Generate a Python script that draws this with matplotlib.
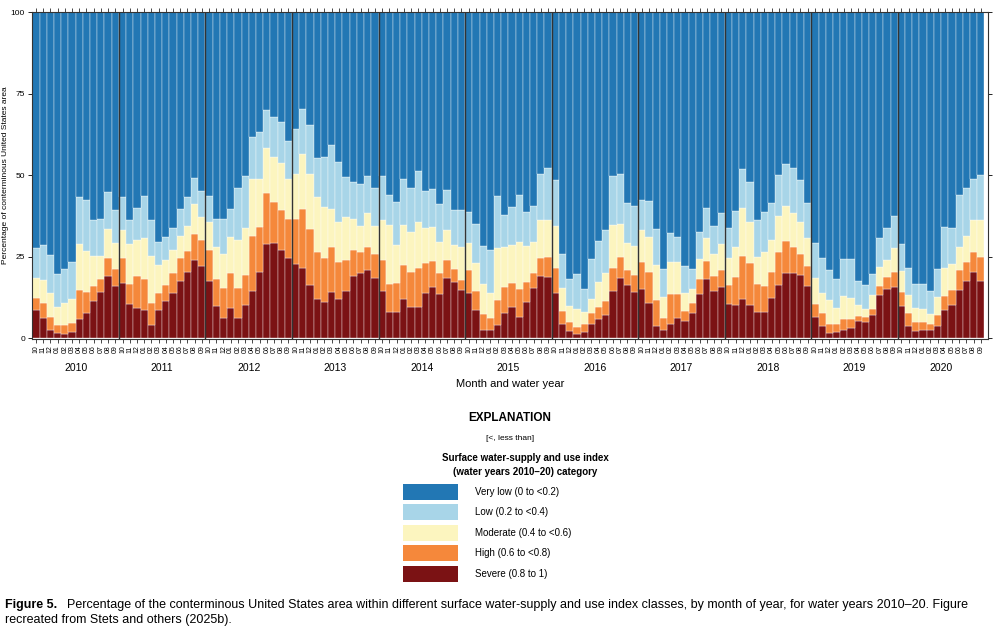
import numpy as np
import matplotlib
matplotlib.use("Agg")
import matplotlib.pyplot as plt
from matplotlib.patches import Rectangle
from matplotlib.transforms import blended_transform_factory

plt.rcParams['font.family'] = ['Liberation Sans Narrow', 'Liberation Sans', 'DejaVu Sans']

years = ["2010", "2011", "2012", "2013", "2014", "2015", "2016", "2017", "2018", "2019", "2020"]
months = ["10", "11", "12", "01", "02", "03", "04", "05", "06", "07", "08", "09"]

categories = ["Severe (0.8 to 1)", "High (0.6 to <0.8)", "Moderate (0.4 to <0.6)",
              "Low (0.2 to <0.4)", "Very low (0 to <0.2)"]
colors = ["#7b1214", "#f5883b", "#fcf5bf", "#a8d5e8", "#2277b4"]

# percent of area with index in class "at least" the given category
severe = [
    8.5, 6.0, 2.4, 1.6, 1.2, 1.9, 5.7, 7.8, 11.4, 14.2, 19.1, 16.0,
    16.9, 10.4, 9.1, 8.6, 4.0, 8.6, 11.4, 13.9, 17.4, 20.3, 23.9, 22.1,
    17.4, 9.8, 6.0, 9.1, 6.0, 10.1, 14.5, 20.4, 28.8, 29.0, 26.9, 24.4,
    22.8, 21.6, 16.4, 12.0, 11.2, 14.1, 11.9, 14.5, 19.0, 19.9, 21.0, 18.3,
    14.4, 7.9, 7.9, 12.0, 9.4, 9.4, 13.7, 15.5, 13.5, 18.5, 17.1, 14.7,
    13.7, 8.6, 2.4, 2.6, 4.0, 7.8, 9.4, 6.5, 11.0, 15.2, 18.9, 18.6,
    13.7, 4.3, 2.1, 1.2, 1.9, 4.3, 5.8, 7.2, 14.4, 18.3, 16.4, 14.2,
    14.9, 10.8, 3.8, 2.4, 4.3, 6.0, 5.3, 7.6, 13.4, 18.1, 14.5, 15.7,
    10.4, 10.1, 12.0, 10.1, 7.9, 8.1, 12.4, 16.3, 19.9, 19.9, 19.2, 16.0,
    6.3, 3.7, 1.4, 1.7, 2.4, 3.0, 5.3, 4.8, 7.2, 13.1, 15.0, 15.7,
    9.8, 3.8, 2.1, 2.4, 2.4, 3.8, 8.6, 10.1, 14.7, 17.4, 20.3, 17.4,
]
high_or_above = [
    12.3, 10.6, 6.5, 4.0, 4.0, 4.5, 14.7, 14.2, 15.9, 18.1, 24.4, 21.1,
    24.4, 16.7, 19.0, 18.1, 10.6, 13.7, 16.2, 20.0, 24.4, 26.6, 32.0, 30.0,
    26.9, 18.1, 15.3, 20.0, 15.3, 19.4, 31.2, 34.1, 44.5, 41.7, 39.2, 36.6,
    36.6, 39.7, 33.3, 26.4, 24.4, 27.9, 23.3, 23.9, 26.9, 26.4, 27.9, 25.7,
    23.9, 16.5, 16.9, 22.4, 20.2, 21.6, 22.9, 23.6, 20.0, 23.9, 21.2, 17.9,
    20.8, 14.5, 7.3, 6.0, 11.6, 15.7, 16.9, 14.9, 17.1, 20.0, 24.4, 24.9,
    21.5, 8.3, 5.0, 3.5, 4.3, 7.8, 9.6, 11.3, 21.6, 24.7, 21.0, 19.2,
    23.4, 20.2, 11.6, 6.0, 13.5, 13.5, 8.4, 10.8, 18.1, 23.7, 19.0, 21.0,
    16.2, 18.6, 25.3, 22.9, 16.5, 16.1, 20.3, 26.4, 29.7, 28.0, 25.7, 22.0,
    10.4, 7.6, 4.3, 4.3, 5.7, 5.7, 6.8, 6.3, 8.8, 16.1, 18.6, 20.3,
    14.1, 7.6, 4.8, 5.0, 4.3, 7.0, 12.9, 14.7, 20.8, 23.4, 26.4, 25.0,
]
moderate_or_above = [
    18.5, 17.8, 13.9, 9.6, 10.6, 12.1, 28.7, 26.7, 25.2, 25.2, 33.3, 29.2,
    33.1, 28.8, 30.0, 30.8, 25.2, 22.3, 23.9, 26.9, 31.2, 34.4, 41.0, 37.1,
    35.6, 28.0, 25.9, 31.0, 30.0, 33.9, 48.9, 48.9, 58.4, 55.5, 53.7, 48.9,
    50.4, 56.5, 50.4, 43.3, 40.2, 39.7, 35.6, 37.1, 36.6, 34.5, 38.2, 34.5,
    36.1, 34.7, 28.4, 34.7, 32.6, 35.6, 33.6, 34.1, 29.5, 33.1, 28.4, 27.9,
    29.2, 23.1, 16.5, 13.9, 27.5, 27.9, 28.4, 29.5, 28.2, 29.5, 36.1, 36.3,
    34.3, 15.4, 9.8, 8.8, 8.0, 12.0, 17.1, 19.8, 34.6, 35.1, 29.2, 28.2,
    33.1, 31.0, 22.3, 12.7, 23.4, 23.4, 13.9, 15.1, 24.2, 30.6, 25.7, 28.8,
    24.4, 28.0, 40.0, 35.6, 25.0, 26.3, 30.2, 37.3, 40.5, 38.2, 35.6, 30.6,
    18.3, 13.9, 11.6, 9.3, 12.9, 12.4, 10.1, 8.9, 13.1, 21.8, 23.9, 27.6,
    20.6, 13.1, 9.3, 8.8, 7.3, 12.6, 21.4, 22.6, 28.0, 31.3, 36.1, 36.1,
]
low_or_above = [
    27.7, 28.5, 25.6, 19.6, 21.3, 23.4, 43.3, 42.2, 36.1, 36.4, 44.7, 39.2,
    43.3, 36.1, 40.0, 43.6, 36.1, 29.5, 31.0, 33.6, 39.7, 43.3, 49.2, 45.1,
    43.6, 36.6, 36.6, 39.7, 45.9, 49.8, 61.8, 63.1, 70.0, 67.8, 66.2, 60.4,
    64.1, 70.3, 65.2, 55.1, 55.5, 59.1, 54.0, 49.4, 47.8, 47.3, 49.6, 46.1,
    49.6, 43.8, 41.7, 48.7, 46.1, 51.2, 45.1, 45.8, 41.0, 45.3, 39.2, 39.2,
    38.7, 34.9, 28.2, 27.1, 43.7, 37.8, 40.2, 44.0, 38.7, 40.4, 50.2, 52.0,
    48.4, 25.7, 18.2, 19.6, 14.9, 24.3, 29.8, 33.1, 49.6, 50.2, 41.4, 40.6,
    42.2, 42.0, 33.5, 21.3, 32.2, 31.0, 22.0, 21.3, 32.6, 39.8, 34.3, 38.2,
    33.6, 39.0, 51.9, 47.8, 36.3, 38.6, 41.5, 49.9, 53.3, 52.1, 48.4, 41.5,
    29.2, 24.4, 21.0, 18.0, 24.1, 24.2, 17.5, 16.2, 19.5, 30.8, 33.8, 37.3,
    28.7, 21.5, 16.5, 16.7, 14.5, 21.3, 34.1, 33.8, 44.0, 46.1, 48.7, 50.1,
]

# cumulative levels -> layer heights
levels = np.vstack([np.zeros(len(severe)), severe, high_or_above,
                    moderate_or_above, low_or_above, np.full(len(severe), 100.0)])
layers = np.diff(levels, axis=0)

fig = plt.figure(figsize=(10, 6.38), dpi=100)
ax = fig.add_axes([0.032, 1 - 339 / 638, 0.956, 327 / 638])

x = np.arange(len(severe))
bottom = np.zeros(len(severe))
for h, c in zip(layers, colors):
    ax.bar(x, h, bottom=bottom, width=1.0, align='edge', color=c,
           edgecolor='#ffffff', linewidth=0.25)
    bottom += h

# year separators
for k in range(1, len(years)):
    ax.axvline(12 * k, color='#333333', linewidth=1.0)

ax.set_xlim(-0.05, 132.5)
ax.set_ylim(-0.3, 100)
ax.set_yticks([0, 25, 50, 75, 100])
ax.set_yticklabels(["0", "25", "50", "75", "100"], fontsize=6)
ax.tick_params(axis='y', direction='out', length=3, width=0.6, pad=2,
               left=True, right=True)
ax.set_xticks(x + 0.5)
ax.set_xticklabels(months * len(years), rotation=90, fontsize=5)
ax.tick_params(axis='x', direction='out', length=3, width=0.5, pad=1.5,
               top=True, bottom=True)
for s in ax.spines.values():
    s.set_linewidth(0.8)
    s.set_color('#333333')

trans = blended_transform_factory(ax.transData, ax.transAxes)
for k, yr in enumerate(years):
    ax.text(12 * k + 6, -0.088, yr, transform=trans, ha='center', va='center',
            fontsize=7.5)
ax.text(0.5, -0.137, "Month and water year", transform=ax.transAxes,
        ha='center', va='center', fontsize=8)
ax.set_ylabel("Percentage of conterminous United States area", fontsize=6)
ax.yaxis.set_label_coords(-0.0245, 0.5)

# explanation / legend
def fy(py):
    return 1 - py / 638

fig.text(0.510, fy(418), "EXPLANATION", ha='center', va='center',
         fontsize=8.5, fontweight='bold')
fig.text(0.510, fy(439), "[<, less than]", ha='center', va='center', fontsize=6)
fig.text(0.525, fy(458), "Surface water-supply and use index", ha='center',
         va='center', fontsize=7, fontweight='bold')
fig.text(0.525, fy(472), "(water years 2010\u201320) category", ha='center',
         va='center', fontsize=7, fontweight='bold')
legend_rows = [492, 512, 533, 553, 574]
for py, lab, c in zip(legend_rows, categories[::-1], colors[::-1]):
    fig.add_artist(Rectangle((0.403, fy(py + 8)), 0.055, 16 / 638,
                             transform=fig.transFigure, facecolor=c,
                             edgecolor='none'))
    fig.text(0.475, fy(py), lab, ha='left', va='center', fontsize=7)

# caption
fig.text(0.005, fy(605), "Figure 5.", ha='left', va='center', fontsize=9,
         fontweight='bold')
fig.text(0.067, fy(605),
         "Percentage of the conterminous United States area within different surface "
         "water-supply and use index classes, by month of year, for water years "
         "2010\u201320. Figure", ha='left', va='center', fontsize=9)
fig.text(0.005, fy(620), "recreated from Stets and others (2025b).", ha='left',
         va='center', fontsize=9)

fig.savefig("out.png", dpi=100)
